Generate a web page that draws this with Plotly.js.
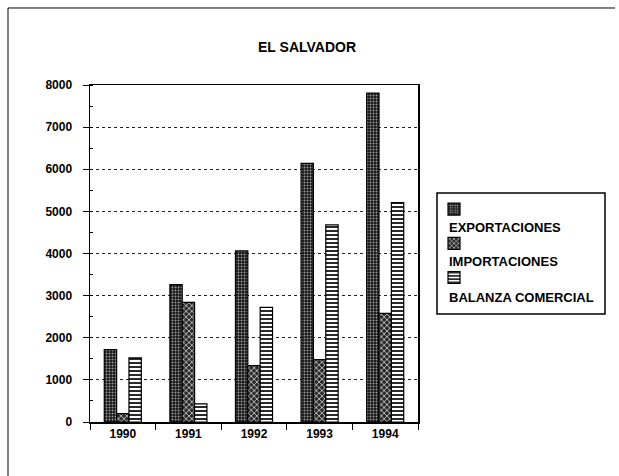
<!DOCTYPE html>
<html>
<head>
<meta charset="utf-8">
<script src="https://cdn.plot.ly/plotly-3.0.1.min.js"></script>
<style>html,body{margin:0;padding:0;background:#fff;}#chart{width:619px;height:476px;}</style>
</head>
<body>
<div id="chart"></div>
<script>
const years = ['1990', '1991', '1992', '1993', '1994'];
const exportaciones = [1720, 3260, 4060, 6140, 7810];
const importaciones = [200, 2840, 1340, 1480, 2580];
const balanza = [1520, 430, 2720, 4680, 5210];
const seriesNames = ['EXPORTACIONES', 'IMPORTACIONES', 'BALANZA COMERCIAL'];
const yTicks = [0, 1000, 2000, 3000, 4000, 5000, 6000, 7000, 8000];

const FONT = 'Liberation Sans, Arial, sans-serif';
const line = {color: '#000', width: 1.2};

const traces = [
  {type: 'bar', x: years, y: exportaciones, name: ' ',
   marker: {color: '#151515', line: line,
            pattern: {shape: '.', bgcolor: '#151515', fgcolor: '#9a9a9a', size: 3, solidity: 0.35}}},
  {type: 'bar', x: years, y: importaciones, name: ' ',
   marker: {color: '#2a2a2a', line: line,
            pattern: {shape: 'x', bgcolor: '#2a2a2a', fgcolor: '#d8d8d8', size: 4, solidity: 0.35}}},
  {type: 'bar', x: years, y: balanza, name: ' ',
   marker: {color: '#fff', line: line,
            pattern: {shape: '-', bgcolor: '#ffffff', fgcolor: '#111', size: 4, solidity: 0.45}}}
];

// plot area in pixels: left 90, right 418, top 85, bottom 422
const annY = [0.5757, 0.4748, 0.368];
const annotations = seriesNames.map((n, i) => ({
  text: n, xref: 'paper', yref: 'paper', x: 1.0884, y: annY[i],
  xanchor: 'left', yanchor: 'middle', showarrow: false,
  font: {family: FONT, size: 13, weight: 'bold', color: '#000'}
}));

const layout = {
  width: 619, height: 476,
  margin: {l: 90, r: 201, t: 85, b: 54},
  paper_bgcolor: '#fff', plot_bgcolor: '#fff',
  showlegend: true,
  barmode: 'group', bargap: 0.435, bargroupgap: 0,
  title: {text: 'EL SALVADOR', xref: 'container', x: 0.496, xanchor: 'center',
          yref: 'container', y: 0.901, yanchor: 'middle',
          font: {family: FONT, size: 14, weight: 'bold', color: '#000'}},
  xaxis: {type: 'category', tickson: 'boundaries', ticks: 'outside', ticklen: 6, tickwidth: 1,
          tickcolor: '#000', showline: true, linecolor: '#000', linewidth: 1.5, mirror: true,
          showgrid: false, tickfont: {family: FONT, size: 12, weight: 'bold', color: '#000'}},
  yaxis: {range: [0, 8000], tickvals: yTicks, ticktext: yTicks.map(String), ticks: 'outside', ticklen: 6,
          tickwidth: 1, tickcolor: '#000', showline: true, linecolor: '#000', linewidth: 1.5, mirror: true,
          ticklabelstandoff: 8,
          showgrid: true, gridcolor: '#222', griddash: 'dot', gridwidth: 1, zeroline: false,
          minor: {dtick: 500, ticks: 'inside', ticklen: 3, tickcolor: '#000', showgrid: false},
          tickfont: {family: FONT, size: 12, weight: 'bold', color: '#000'}},
  legend: {x: 1.0488, xanchor: 'left', y: 0.6973, yanchor: 'top', bgcolor: 'rgba(0,0,0,0)',
           borderwidth: 0, font: {family: FONT, size: 24}, tracegroupgap: 0, traceorder: 'normal'},
  annotations: annotations,
  shapes: [
    {type: 'rect', xref: 'paper', yref: 'paper', x0: 1.0579, x1: 1.5701, y0: 0.3205, y1: 0.6795,
     line: {color: '#000', width: 1.5}},
    {type: 'line', xref: 'paper', yref: 'paper', x0: -0.25, x1: 1.6006, y0: 1.2285, y1: 1.2285,
     line: {color: '#000', width: 1}},
    {type: 'line', xref: 'paper', yref: 'paper', x0: -0.25, x1: -0.25, y0: 1.2285, y1: -0.1602,
     line: {color: '#000', width: 1}}
  ]
};

Plotly.newPlot('chart', traces, layout, {displayModeBar: false, staticPlot: true});
</script>
</body>
</html>
